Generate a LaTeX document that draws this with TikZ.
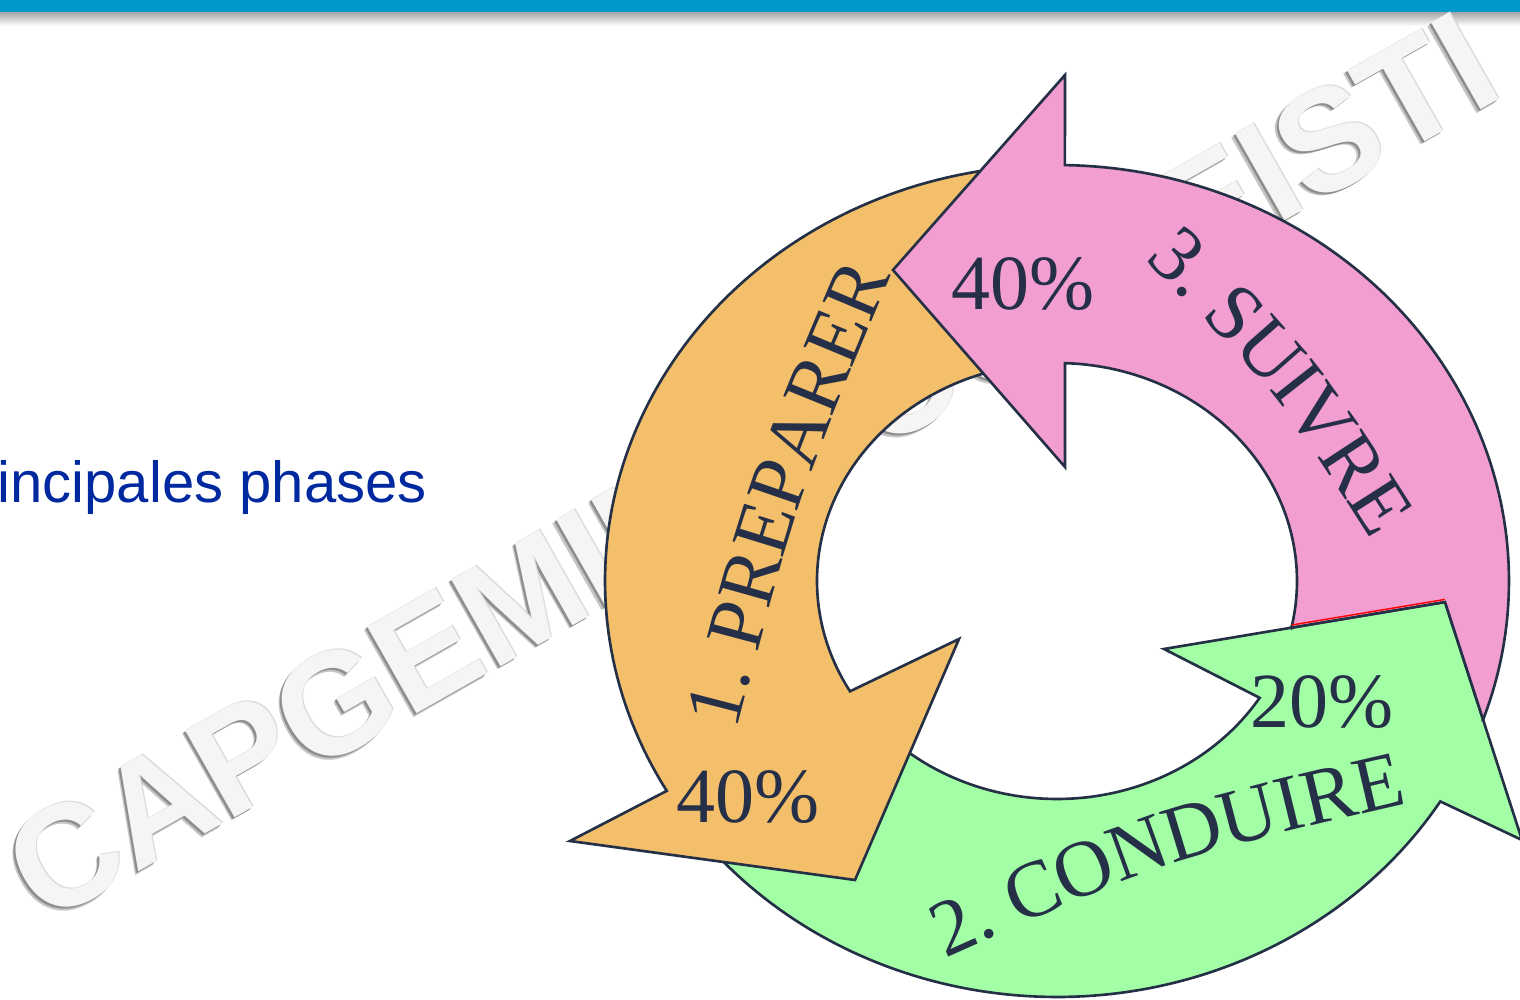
\documentclass[tikz,border=0pt]{standalone}
\usepackage{fontspec}
\setmainfont{Liberation Serif}
\newfontfamily\lsans{Liberation Sans}
\usetikzlibrary{decorations.text}

\definecolor{barblue}{HTML}{0099CC}
\definecolor{leadblue}{HTML}{0029A0}
\definecolor{edgec}{HTML}{243046}
\definecolor{labelc}{HTML}{253048}
\definecolor{orangefill}{HTML}{F4BF6B}
\definecolor{pinkfill}{HTML}{F29ED0}
\definecolor{greenfill}{HTML}{A3FFA6}
\definecolor{wmface}{HTML}{F6F5F3}
\definecolor{wmedge}{HTML}{D8D8D8}
\definecolor{wmshade}{HTML}{8E8E8E}
\definecolor{wmsoft}{HTML}{C6C6C6}

\newcommand\pctfont{\fontsize{22.2pt}{26pt}\selectfont}
\newcommand\arcfont{\fontsize{22.8pt}{26pt}\selectfont}
\newcommand\wmfont{\lsans\bfseries\fontsize{41.2pt}{48pt}\selectfont}
\newcommand\leadfont{\lsans\fontsize{16.5pt}{20pt}\selectfont}
\newcommand\wmtext{CAPGEMINI POUR EISTI}

\begin{document}
\begin{tikzpicture}[x=0.01cm, y=-0.01cm,
  band/.style={draw=edgec, line width=0.75pt, line join=miter},
  pct/.style={font=\pctfont, text=labelc, anchor=base, inner sep=0pt},
  wm/.style={font=\wmfont, rotate=29.6, anchor=base west, inner sep=0pt},
  arclabel/.style={decorate, decoration={text along path, text align=center,
      raise=-0.265cm, text color=labelc, text={#1}}},
]
% page frame (pixel units, y pointing down)
\useasboundingbox (0,0) rectangle (1520,1000);
\fill[white] (0,0) rectangle (1520,1000);

% header bar and its soft shadow
\fill[barblue] (0,0) rectangle (1520,12);
\shade[top color=black!35, bottom color=white] (0,12) rectangle (1520,26);

% slide text
\node[font=\leadfont, text=leadblue, anchor=base west, inner sep=0pt] (lead) at (-3,502) {incipales phases};

% embossed watermark
\node[wm, text=wmsoft]   (wmblur)   at (40.5,929.5) {\wmtext};
\node[wm, text=wmshade]  (wmshadow) at (42,928)     {\wmtext};
\node[wm, text=wmedge]   (wmrim)    at (45,925)     {\wmtext};
\node[wm, text=wmface]   (wmtop)    at (44,926)     {\wmtext};

% arrow heads and tail cut
\coordinate (gBarbOut) at (1522,840);
\coordinate (gTip)     at (1445,602);
\coordinate (gBarbIn)  at (1164,649);
\coordinate (oBarbOut) at (570,841);
\coordinate (oTip)     at (855,880);
\coordinate (oBarbIn)  at (959,639);
\coordinate (pBarbOut) at (1065,75);
\coordinate (pTip)     at (893,270);
\coordinate (pBarbIn)  at (1065,467);
\coordinate (pTailIn)  at (1291.3,627.7);
\coordinate (pTailOut) at (1483.3,720.3);

% 2. CONDUIRE (green)
\path[band, fill=greenfill]
  plot[domain=220:328, samples=90] ({1057+452*cos(\x)},{581-416*sin(\x)})
  -- (gBarbOut) -- (gTip) -- (gBarbIn)
  -- plot[domain=327.6:220, samples=90] ({1057+240*cos(\x)},{581-218*sin(\x)})
  -- cycle;

% 1. PREPARER (orange)
\path[band, fill=orangefill]
  plot[domain=95:210.3, samples=90] ({1057+452*cos(\x)},{581-416*sin(\x)})
  -- (oBarbOut) -- (oTip) -- (oBarbIn)
  -- plot[domain=210.4:95, samples=90] ({1057+240*cos(\x)},{581-218*sin(\x)})
  -- cycle;

% 3. SUIVRE (pink)
\path[band, fill=pinkfill]
  (pTailIn) -- (gTip) -- (pTailOut)
  -- plot[domain=-19.55:89, samples=90] ({1057+452*cos(\x)},{581-416*sin(\x)})
  -- (pBarbOut) -- (pTip) -- (pBarbIn)
  -- plot[domain=88.1:-12.4, samples=90] ({1057+240*cos(\x)},{581-218*sin(\x)})
  -- cycle;

% thin red seam on the pink side of the green head
\coordinate (redA) at (1291.6,625.0);
\coordinate (redB) at (1445,599.4);
\draw[red, line width=0.4pt] (redA) -- (redB);

% percentages
\node[pct] (pinkpct)   at (1023,309) {40\%};
\node[pct] (orangepct) at (748,822)  {40\%};
\node[pct] (greenpct)  at (1322,727) {20\%};

% curved phase names
\coordinate (prepA) at (704,752);
\coordinate (prepC) at (772,489);
\coordinate (prepB) at (878,238);
\path[arclabel={|\arcfont|1. PREPARER}] (prepA) .. controls (prepC) .. (prepB);

\coordinate (condA) at (905,947);
\coordinate (condC) at (1160,833);
\coordinate (condB) at (1433,770);
\path[arclabel={|\arcfont|2. CONDUIRE}] (condA) .. controls (condC) .. (condB);

\coordinate (suivA) at (1137,215);
\coordinate (suivC) at (1295,370);
\coordinate (suivB) at (1414,557);
\path[arclabel={|\arcfont|3. SUIVRE}] (suivA) .. controls (suivC) .. (suivB);
\end{tikzpicture}
\end{document}
